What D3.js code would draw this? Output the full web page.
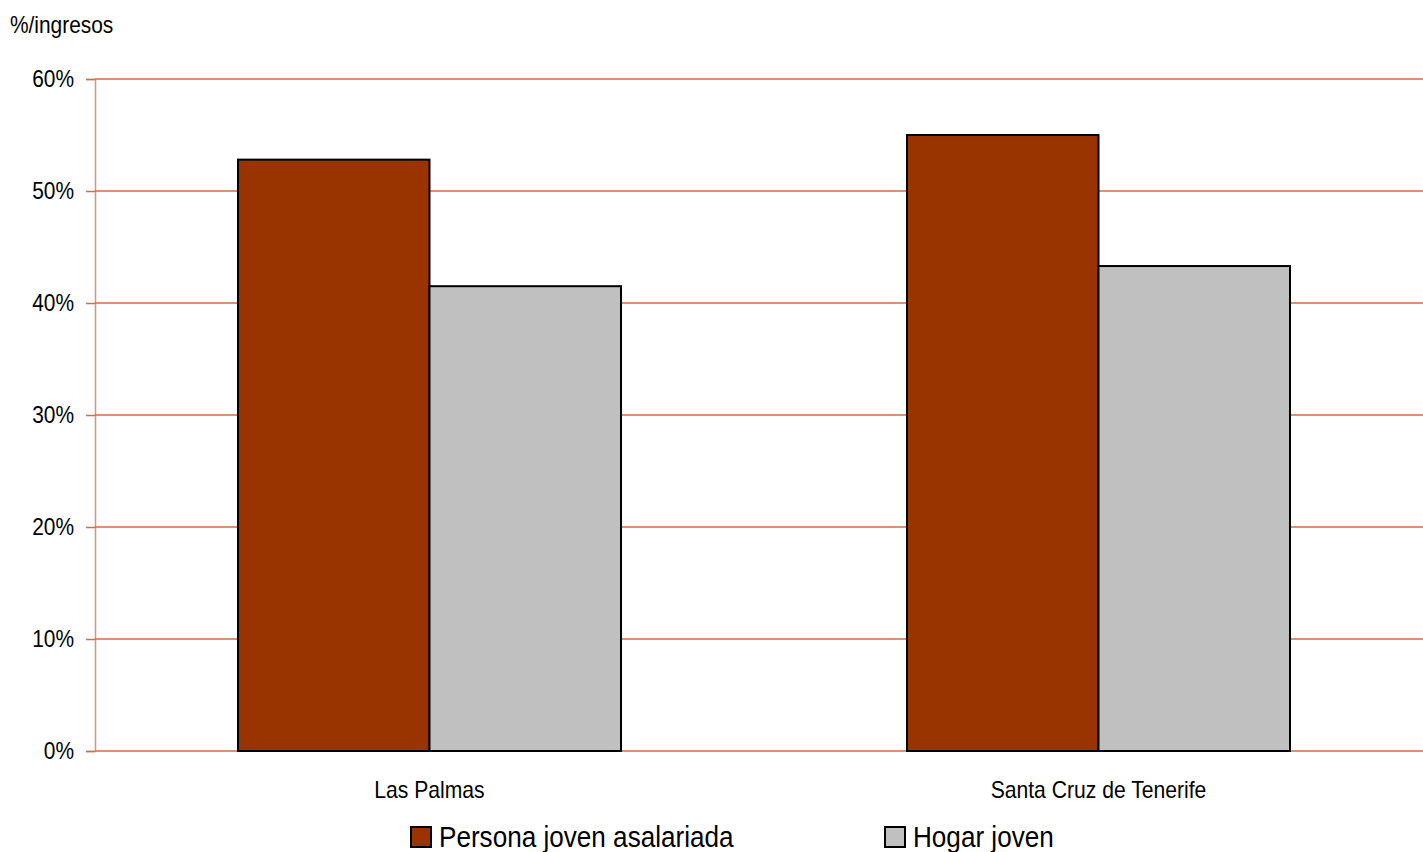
<!DOCTYPE html>
<html>
<head>
<meta charset="utf-8">
<script src="https://cdn.jsdelivr.net/npm/d3@7"></script>
<style>
  body { margin: 0; background: #fff; }
  svg text { font-family: "Liberation Sans Narrow", "Arial Narrow", "Liberation Sans", Arial, sans-serif; fill: #000; }
</style>
</head>
<body>
<div class="chart"></div>
<script>
// data
var categories = ["Las Palmas", "Santa Cruz de Tenerife"]
var seriesNames = ["Persona joven asalariada", "Hogar joven"]
var asalariada = [52.8, 55.0]
var hogar = [41.5, 43.3]
var yTicks = [0, 10, 20, 30, 40, 50, 60]
var colors = ["#993300", "#C0C0C0"]

var width = 1423, height = 852

let svg = d3.select(".chart").append("svg")
    .attr("width", width)
    .attr("height", height)

// squeeze text to look like a narrow font
function narrow(sel, f) {
    sel.each(function () {
        let w = this.getComputedTextLength()
        d3.select(this).attr("textLength", w * f).attr("lengthAdjust", "spacingAndGlyphs")
    })
}

let y = d3.scaleLinear().domain([0, 60]).range([751, 79])

let x0 = d3.scaleBand()
    .domain(categories)
    .range([95, 1433])
    .paddingInner(0.4275)
    .paddingOuter(0.21375)

let x1 = d3.scaleBand()
    .domain(seriesNames)
    .range([0, x0.bandwidth()])

//
// gridlines + y axis
//
let yAxis = svg.append("g")
    .attr("transform", "translate(95,0)")
    .call(d3.axisLeft(y).tickValues(yTicks).tickSize(9).tickFormat(d => d + "%"))

yAxis.select(".domain").attr("stroke", "#D4977A").attr("stroke-width", 1.5)
yAxis.selectAll(".tick line").attr("stroke", "#C8704A").attr("stroke-width", 1.5)
yAxis.selectAll(".tick text")
    .attr("x", -21)
    .style("font-size", "24px")
    .call(narrow, 0.87)

svg.append("g")
    .selectAll("line")
    .data(yTicks)
    .join("line")
    .attr("x1", 95)
    .attr("x2", width)
    .attr("y1", d => y(d))
    .attr("y2", d => y(d))
    .attr("stroke", "#C8704A")
    .attr("stroke-width", 1.5)

//
// bars
//
let rows = categories.map((c, i) => ({cat: c, vals: [asalariada[i], hogar[i]]}))

let groups = svg.append("g")
    .selectAll("g")
    .data(rows)
    .join("g")
    .attr("transform", d => "translate(" + x0(d.cat) + ",0)")

groups.selectAll("rect")
    .data(d => d.vals.map((v, j) => ({name: seriesNames[j], v: v, j: j})))
    .join("rect")
    .attr("x", d => x1(d.name))
    .attr("y", d => y(d.v))
    .attr("width", x1.bandwidth())
    .attr("height", d => y(0) - y(d.v))
    .attr("fill", d => colors[d.j])
    .attr("stroke", "#000")
    .attr("stroke-width", 2)

//
// category labels
//
svg.append("g")
    .selectAll("text")
    .data(categories)
    .join("text")
    .attr("x", d => x0(d) + x0.bandwidth() / 2)
    .attr("y", 798)
    .attr("text-anchor", "middle")
    .style("font-size", "24px")
    .text(d => d)
    .call(narrow, 0.88)

// y title
svg.append("text")
    .attr("x", 10)
    .attr("y", 33)
    .style("font-size", "24px")
    .text("%/ingresos")
    .call(narrow, 0.87)

//
// legend
//
let legendX = [411, 885]
let legend = svg.append("g")
    .selectAll("g")
    .data(seriesNames)
    .join("g")
    .attr("transform", (d, i) => "translate(" + legendX[i] + ",827)")

legend.append("rect")
    .attr("width", 20)
    .attr("height", 20)
    .attr("fill", (d, i) => colors[i])
    .attr("stroke", "#000")
    .attr("stroke-width", 2)

legend.append("text")
    .attr("x", 28)
    .attr("y", 20)
    .style("font-size", "29px")
    .text(d => d)
    .call(narrow, 0.9)
</script>
</body>
</html>
